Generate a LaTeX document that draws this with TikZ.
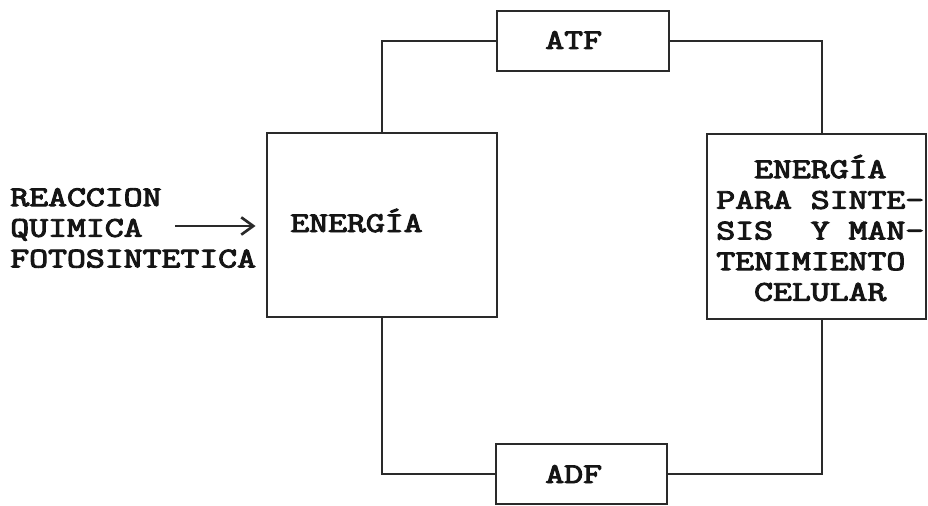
\documentclass[tikz,border=0pt]{standalone}
\usepackage{fontspec}
\newfontfamily\lmttb[FakeBold=3.2]{Latin Modern Mono}
\usetikzlibrary{arrows.meta}
\definecolor{ink}{HTML}{2A2A2A}
\definecolor{txt}{HTML}{151515}
\begin{document}
\begin{tikzpicture}[x=0.75pt,y=-0.75pt,
  boxst/.style={draw=ink,line width=2.2pt,rectangle,inner sep=0pt},
  wire/.style={draw=ink,line width=2.2pt},
  lbl/.style={inner sep=0pt,text=txt,xscale=1.28,font=\lmttb\fontsize{21.5}{23}\selectfont},
  arrowst/.style={draw=ink,line width=1.7pt,-{Straight Barb[length=9pt,width=13pt,line width=2pt]}}]
\useasboundingbox (0,0) rectangle (928,506);
\clip (0,0) rectangle (928,506);
% boxes
\node[boxst,minimum width=230*0.75pt,minimum height=184*0.75pt] (ebox) at (382,225) {};
\node[boxst,minimum width=219*0.75pt,minimum height=185*0.75pt] (rbox) at (816.5,226.5) {};
\node[boxst,minimum width=172*0.75pt,minimum height=60*0.75pt] (atf) at (583,41) {};
\node[boxst,minimum width=171*0.75pt,minimum height=60*0.75pt] (adf) at (581.5,474) {};
\coordinate (rx) at (822,0);
% connectors
\draw[wire] (atf.west) -| (ebox.north);
\draw[wire] (atf.east) -| (rx |- rbox.north);
\draw[wire] (ebox.south) |- (adf.west);
\draw[wire] (rx |- rbox.south) |- (adf.east);
% labels
\node[lbl,anchor=base west] (tatf) at (545,49) {ATF};
\node[lbl,anchor=base west] (tadf) at (545,483) {ADF};
\node[lbl,anchor=base west] (tene) at (290,232) {ENERGÍA};
\node[lbl,anchor=west,align=left] (reac) at (10,228) {REACCION\\QUIMICA\\FOTOSINTETICA};
\node[lbl,anchor=west,align=left] (rtext) at (716,228) {~~ENERGÍA\\PARA SINTE-\\SIS~~Y MAN-\\TENIMIENTO\\~~CELULAR};
\coordinate (arr) at (175,226);
\draw[arrowst,shorten >=7.5pt] (arr) -- (arr -| ebox.west);
\end{tikzpicture}
\end{document}
